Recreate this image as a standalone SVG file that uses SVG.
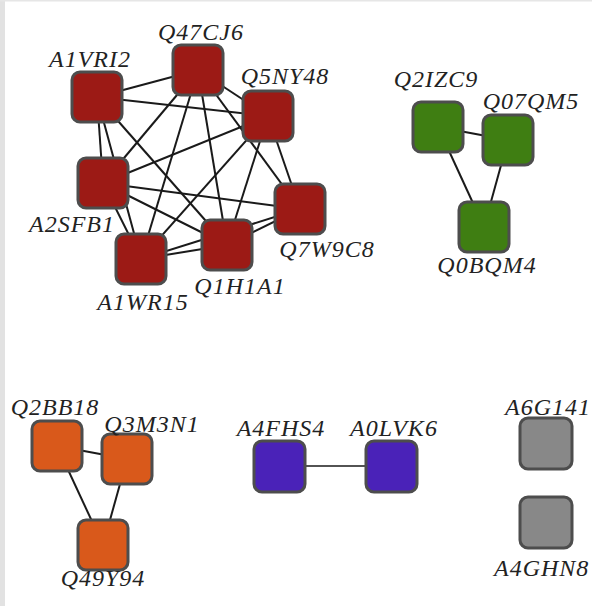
<svg xmlns="http://www.w3.org/2000/svg" width="592" height="606" viewBox="0 0 592 606">
<style>
.n rect{stroke:#4d4d4d;stroke-width:3}
.red rect{fill:#9c1a15}
.green rect{fill:#3f7e12}
.orange rect{fill:#d9591b}
.blue rect{fill:#4a22b8}
.gray rect{fill:#888888}
text{font-family:"Liberation Serif","Times New Roman",serif;font-style:italic;font-size:24px;fill:#222;letter-spacing:1px;text-anchor:middle}
.edges line{stroke:#1a1a1a;stroke-width:2}
</style>
<rect x="0" y="0" width="592" height="606" fill="#ffffff"/>
<rect x="0" y="0" width="5" height="606" fill="#e2e2e2"/>
<rect x="0" y="0" width="592" height="1.5" fill="#e6e6e6"/>
<g class="edges" id="connectors">
<line x1="97" y1="97" x2="198" y2="70"/>
<line x1="97" y1="97" x2="268" y2="116"/>
<line x1="97" y1="97" x2="103" y2="183"/>
<line x1="97" y1="97" x2="227" y2="245"/>
<line x1="97" y1="97" x2="141" y2="259"/>
<line x1="198" y1="70" x2="268" y2="116"/>
<line x1="198" y1="70" x2="103" y2="183"/>
<line x1="198" y1="70" x2="141" y2="259"/>
<line x1="198" y1="70" x2="227" y2="245"/>
<line x1="198" y1="70" x2="300" y2="209"/>
<line x1="268" y1="116" x2="103" y2="183"/>
<line x1="268" y1="116" x2="141" y2="259"/>
<line x1="268" y1="116" x2="227" y2="245"/>
<line x1="268" y1="116" x2="300" y2="209"/>
<line x1="103" y1="183" x2="300" y2="209"/>
<line x1="103" y1="183" x2="227" y2="245"/>
<line x1="103" y1="183" x2="141" y2="259"/>
<line x1="300" y1="209" x2="227" y2="245"/>
<line x1="300" y1="209" x2="141" y2="259"/>
<line x1="227" y1="245" x2="141" y2="259"/>
<line x1="438" y1="127" x2="508" y2="140"/>
<line x1="438" y1="127" x2="484" y2="227"/>
<line x1="508" y1="140" x2="484" y2="227"/>
<line x1="57" y1="446" x2="127" y2="459"/>
<line x1="57" y1="446" x2="103" y2="545"/>
<line x1="127" y1="459" x2="103" y2="545"/>
<line x1="279" y1="466" x2="391" y2="466" style="stroke-width:1.6"/>
</g>
<g id="A1VRI2" class="n red"><rect x="72" y="72" width="50" height="50" rx="8"/><text x="90" y="67">A1VRI2</text></g>
<g id="Q47CJ6" class="n red"><rect x="173" y="45" width="50" height="50" rx="8"/><text x="201" y="40">Q47CJ6</text></g>
<g id="Q5NY48" class="n red"><rect x="243" y="91" width="50" height="50" rx="8"/><text x="285" y="84">Q5NY48</text></g>
<g id="A2SFB1" class="n red"><rect x="78" y="158" width="50" height="50" rx="8"/><text x="72" y="232">A2SFB1</text></g>
<g id="Q7W9C8" class="n red"><rect x="275" y="184" width="50" height="50" rx="8"/><text x="327" y="257">Q7W9C8</text></g>
<g id="Q1H1A1" class="n red"><rect x="202" y="220" width="50" height="50" rx="8"/><text x="240" y="294">Q1H1A1</text></g>
<g id="A1WR15" class="n red"><rect x="116" y="234" width="50" height="50" rx="8"/><text x="143" y="310">A1WR15</text></g>
<g id="Q2IZC9" class="n green"><rect x="413" y="102" width="50" height="50" rx="8"/><text x="436" y="87">Q2IZC9</text></g>
<g id="Q07QM5" class="n green"><rect x="483" y="115" width="50" height="50" rx="8"/><text x="531" y="109">Q07QM5</text></g>
<g id="Q0BQM4" class="n green"><rect x="459" y="202" width="50" height="50" rx="8"/><text x="487" y="273">Q0BQM4</text></g>
<g id="Q2BB18" class="n orange"><rect x="32" y="421" width="50" height="50" rx="8"/><text x="55" y="415">Q2BB18</text></g>
<g id="Q3M3N1" class="n orange"><rect x="102" y="434" width="50" height="50" rx="8"/><text x="152" y="432">Q3M3N1</text></g>
<g id="Q49Y94" class="n orange"><rect x="78" y="520" width="50" height="50" rx="8"/><text x="103" y="586">Q49Y94</text></g>
<g id="A4FHS4" class="n blue"><rect x="254" y="441" width="51" height="51" rx="8"/><text x="281" y="436">A4FHS4</text></g>
<g id="A0LVK6" class="n blue"><rect x="366" y="441" width="51" height="51" rx="8"/><text x="394" y="436">A0LVK6</text></g>
<g id="A6G141" class="n gray"><rect x="520" y="418" width="52" height="51" rx="8"/><text x="505" y="415" style="text-anchor:start">A6G141</text></g>
<g id="A4GHN8" class="n gray"><rect x="520" y="497" width="52" height="51" rx="8"/><text x="494" y="576" style="text-anchor:start">A4GHN8</text></g>
</svg>
